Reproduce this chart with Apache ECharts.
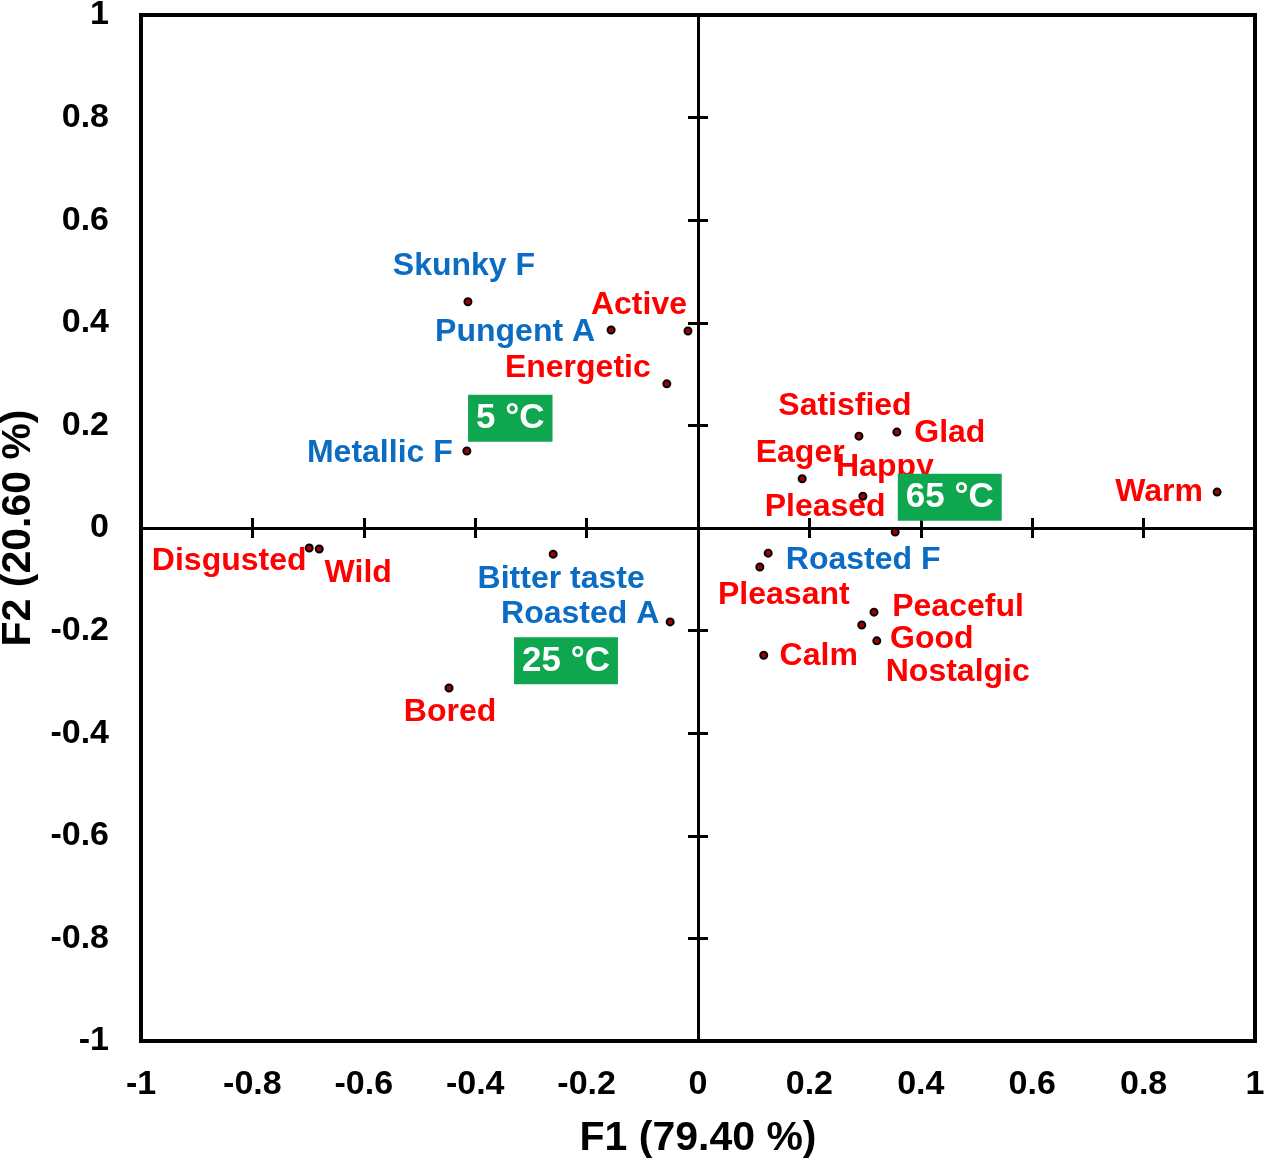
<!DOCTYPE html>
<html>
<head>
<meta charset="utf-8">
<script src="https://cdn.jsdelivr.net/npm/echarts@6/dist/echarts.min.js"></script>
<style>
    html, body { margin: 0; padding: 0; background: #fff; }
    #main { width: 1267px; height: 1172px; }
</style>
</head>
<body>
<div id="main"></div>
<script>
// 感官属性 (蓝色)
var sensoryNames = ['Skunky F', 'Pungent A', 'Metallic F', 'Bitter taste', 'Roasted A', 'Roasted F'];
var sensoryF1 = [-0.413, -0.156, -0.415, -0.260, -0.050, 0.126];
var sensoryF2 = [0.441, 0.386, 0.150, -0.051, -0.183, -0.049];

// 情绪词 (红色)
var emotionNames = ['Active', 'Energetic', 'Disgusted', 'Wild', 'Bored', 'Satisfied', 'Glad', 'Eager',
    'Happy', 'Pleased', 'Warm', 'Pleasant', 'Peaceful', 'Nostalgic', 'Good', 'Calm'];
var emotionF1 = [-0.018, -0.056, -0.698, -0.680, -0.447, 0.289, 0.357, 0.187,
    0.296, 0.354, 0.932, 0.111, 0.316, 0.294, 0.321, 0.118];
var emotionF2 = [0.384, 0.281, -0.039, -0.041, -0.312, 0.179, 0.187, 0.096,
    0.062, -0.008, 0.070, -0.076, -0.164, -0.189, -0.220, -0.248];

// 温度 (绿色方框)
var tempNames = ['5 °C', '25 °C', '65 °C'];
var tempF1 = [-0.337, -0.237, 0.452];
var tempF2 = [0.214, -0.259, 0.060];

var axisMin = -1;
var axisMax = 1;
var axisStep = 0.2;

// 标签相对点的偏移 (像素)
var sensoryLabelOffsets = [[-4, -36], [-96, 2], [-87, 2], [8, 25], [-90, -8], [95, 7]];
var emotionLabelOffsets = [[-49, -26], [-89, -16], [-80, 13], [39, 24], [1, 24], [-14, -30], [53, 1], [-2, -26],
    [22, -29], [-70, -25], [-58, 0], [24, 28], [84, -5], [96, 47], [55, -2], [55, 1]];

var font = '"Liberation Sans", Arial, sans-serif';

function buildPoints(names, xs, ys, offsets) {
    var arr = [];
    for (var i = 0; i < names.length; i++) {
        arr.push({
            name: names[i],
            value: [xs[i], ys[i]],
            label: { offset: offsets ? offsets[i] : [0, 0] }
        });
    }
    return arr;
}

var dom = echarts.init(document.getElementById('main'));

//中心十字轴 (刻度两边各一半)
function centerX(inside) {
    return {
        type: 'value', min: axisMin, max: axisMax, interval: axisStep, position: 'bottom',
        axisLine: { show: true, onZero: true, onZeroAxisIndex: 0, lineStyle: { color: '#000', width: 3 } },
        axisTick: { show: true, inside: inside, length: 10, lineStyle: { color: '#000', width: 3 } },
        axisLabel: { show: false },
        splitLine: { show: false }
    };
}
function centerY(inside) {
    return {
        type: 'value', min: axisMin, max: axisMax, interval: axisStep, position: 'left',
        axisLine: { show: true, onZero: true, onZeroAxisIndex: 0, lineStyle: { color: '#000', width: 3 } },
        axisTick: { show: true, inside: inside, length: 10, lineStyle: { color: '#000', width: 3 } },
        axisLabel: { show: false },
        splitLine: { show: false }
    };
}

var labelStyle = {
    show: true,
    position: 'inside',
    fontSize: 32,
    fontWeight: 'bold',
    fontFamily: font
};

var option = {
    animation: false,
    backgroundColor: '#fff',
    grid: {
        left: 141, right: 12, top: 15, bottom: 131,
        show: true, borderColor: '#000', borderWidth: 4,
        containLabel: false,
        outerBoundsMode: 'none'
    },
    xAxis: [{
            type: 'value', min: axisMin, max: axisMax, interval: axisStep, position: 'bottom',
            axisLine: { show: false, onZero: false },
            axisTick: { show: false },
            axisLabel: { show: true, margin: 27, color: '#000', fontSize: 34, fontWeight: 'bold', fontFamily: font,
                showMinLabel: true, showMaxLabel: true },
            splitLine: { show: false },
            name: 'F1 (79.40 %)',
            nameLocation: 'middle',
            nameGap: 77,
            nameTextStyle: { color: '#000', fontSize: 41, fontWeight: 'bold', fontFamily: font }
        },
        centerX(false),
        centerX(true)
    ],
    yAxis: [{
            type: 'value', min: axisMin, max: axisMax, interval: axisStep, position: 'left',
            axisLine: { show: false, onZero: false },
            axisTick: { show: false },
            axisLabel: { show: true, margin: 32, color: '#000', fontSize: 34, fontWeight: 'bold', fontFamily: font,
                showMinLabel: true, showMaxLabel: true },
            splitLine: { show: false },
            name: 'F2 (20.60 %)',
            nameLocation: 'middle',
            nameGap: 102,
            nameTextStyle: { color: '#000', fontSize: 41, fontWeight: 'bold', fontFamily: font }
        },
        centerY(false),
        centerY(true)
    ],
    series: [{
            name: 'sensory',
            type: 'scatter',
            symbolSize: 7,
            itemStyle: { color: '#a00000', borderColor: '#000', borderWidth: 2, opacity: 1 },
            label: Object.assign({}, labelStyle, { color: '#0b6cc4', formatter: '{b}' }),
            data: buildPoints(sensoryNames, sensoryF1, sensoryF2, sensoryLabelOffsets)
        },
        {
            name: 'emotion',
            type: 'scatter',
            symbolSize: 7,
            itemStyle: { color: '#a00000', borderColor: '#000', borderWidth: 2, opacity: 1 },
            label: Object.assign({}, labelStyle, { color: '#ff0000', formatter: '{b}' }),
            data: buildPoints(emotionNames, emotionF1, emotionF2, emotionLabelOffsets)
        },
        {
            name: 'temperature',
            type: 'scatter',
            z: 5,
            symbolSize: 1,
            itemStyle: { color: 'rgba(0,0,0,0)', opacity: 1 },
            label: Object.assign({}, labelStyle, {
                color: '#fff', formatter: '{b}', fontSize: 35,
                backgroundColor: '#0fa650', padding: [6, 8, 6, 8]
            }),
            data: buildPoints(tempNames, tempF1, tempF2, null)
        }
    ]
};

dom.setOption(option);
</script>
</body>
</html>
